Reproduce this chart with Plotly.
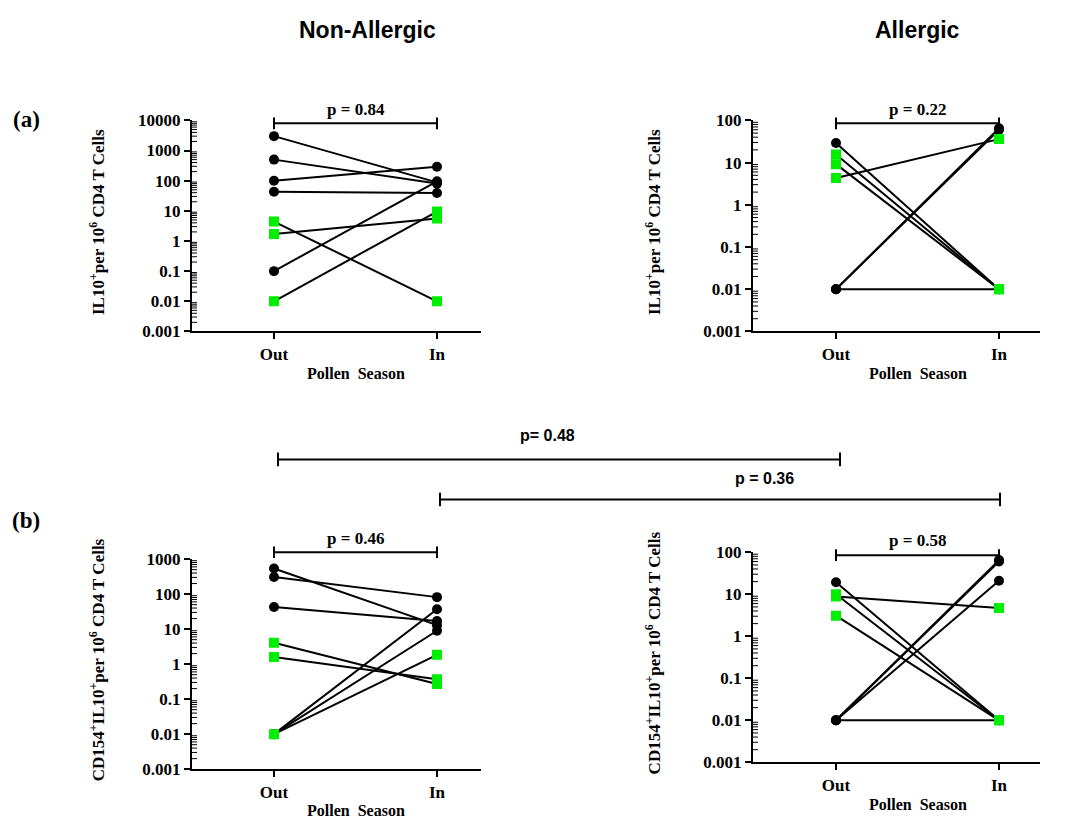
import plotly.graph_objects as go

W, H = 1077, 829

# ---------------- data ----------------
categories = ["Out", "In"]
ytick_vals_top_left = [0.001, 0.01, 0.1, 1, 10, 100, 1000, 10000]
ytick_text_top_left = ["0.001", "0.01", "0.1", "1", "10", "100", "1000", "10000"]
ytick_vals_bot_left = [0.001, 0.01, 0.1, 1, 10, 100, 1000]
ytick_text_bot_left = ["0.001", "0.01", "0.1", "1", "10", "100", "1000"]
ytick_vals_right = [0.001, 0.01, 0.1, 1, 10, 100]
ytick_text_right = ["0.001", "0.01", "0.1", "1", "10", "100"]

# (a) IL10+ , Non-Allergic
a_non_out = [3000, 500, 100, 43, 0.1, 4.4, 1.7, 0.01]
a_non_in = [88, 80, 290, 39, 95, 0.01, 5.6, 9.5]
a_non_grp = ["c", "c", "c", "c", "c", "s", "s", "s"]

# (a) IL10+ , Allergic
a_all_out = [29, 15.5, 9.2, 4.3, 0.01, 0.01, 0.01]
a_all_in = [0.01, 0.01, 0.01, 36, 60, 65, 0.01]
a_all_grp = ["c", "s", "s", "s", "c", "c", "c"]

# (b) CD154+IL10+ , Non-Allergic
b_non_out = [537, 308, 43, 4.1, 1.6, 0.01, 0.01, 0.01]
b_non_in = [13, 82, 17, 0.27, 0.37, 37, 9, 1.85]
b_non_grp = ["c", "c", "c", "s", "s", "c", "c", "s"]

# (b) CD154+IL10+ , Allergic
b_all_out = [19.4, 10, 8.9, 3.1, 0.01, 0.01, 0.01, 0.01]
b_all_in = [0.01, 0.01, 4.7, 0.01, 60, 65, 21, 0.01]
b_all_grp = ["c", "s", "s", "s", "c", "c", "c", "c"]

p_within = ["p = 0.84", "p = 0.22", "p = 0.46", "p = 0.58"]
p_between = ["p= 0.48", "p = 0.36"]
col_titles = ["Non-Allergic", "Allergic"]
row_labels = ["(a)", "(b)"]
ytitle_a = "<b>IL10<sup>+</sup>per 10<sup>6</sup> CD4 T Cells</b>"
ytitle_b = "<b>CD154<sup>+</sup>IL10<sup>+</sup>per 10<sup>6</sup> CD4 T Cells</b>"
xtitle = "<b>Pollen  Season</b>"

# ---------------- layout helpers ----------------
def fx(p):
    return p / W

def fy(p):
    return 1 - p / H

GREEN = "#00ee00"
SERIF = "Liberation Serif, Times New Roman, serif"
SANS = "Liberation Sans, Arial, sans-serif"

panels = [
    dict(out=a_non_out, inn=a_non_in, grp=a_non_grp, xpx=(192, 481), ypx=(330, 114),
         yr=(-3, 4), tv=ytick_vals_top_left, tt=ytick_text_top_left, p=p_within[0],
         pbar=117, ptxt=103, ytitle=ytitle_a, ytx=97, xlab=350, xtl=373),
    dict(out=a_all_out, inn=a_all_in, grp=a_all_grp, xpx=(753, 1040), ypx=(330, 114),
         yr=(-3, 2), tv=ytick_vals_right, tt=ytick_text_right, p=p_within[1],
         pbar=117, ptxt=103, ytitle=ytitle_a, ytx=653, xlab=350, xtl=373),
    dict(out=b_non_out, inn=b_non_in, grp=b_non_grp, xpx=(192, 481), ypx=(778, 563),
         yr=(-3, 3), tv=ytick_vals_bot_left, tt=ytick_text_bot_left, p=p_within[2],
         pbar=556, ptxt=542, ytitle=ytitle_b, ytx=97, xlab=798, xtl=820),
    dict(out=b_all_out, inn=b_all_in, grp=b_all_grp, xpx=(753, 1040), ypx=(771, 556),
         yr=(-3, 2), tv=ytick_vals_right, tt=ytick_text_right, p=p_within[3],
         pbar=559, ptxt=544, ytitle=ytitle_b, ytx=653, xlab=792, xtl=814),
]

OUT_PX = {192: 274, 753: 836}
STEP = 163.0

fig = go.Figure()
shapes = []
annotations = []

for i, pn in enumerate(panels):
    k = "" if i == 0 else str(i + 1)
    xa, ya = "x" + k, "y" + k
    x0, x1 = pn["xpx"]
    outpx = OUT_PX[x0]
    xr = [-(outpx - x0) / STEP, (x1 - outpx) / STEP]

    # connecting lines
    for o, n in zip(pn["out"], pn["inn"]):
        fig.add_trace(go.Scatter(x=[0, 1], y=[o, n], mode="lines", xaxis=xa, yaxis=ya,
                                 line=dict(color="black", width=2), hoverinfo="skip"))
    # markers: circles then squares
    for g, sym, col in (("c", "circle", "black"), ("s", "square", GREEN)):
        xs, ys = [], []
        for o, n, gg in zip(pn["out"], pn["inn"], pn["grp"]):
            if gg == g:
                xs += [0, 1]
                ys += [o, n]
        fig.add_trace(go.Scatter(x=xs, y=ys, mode="markers", xaxis=xa, yaxis=ya,
                                 marker=dict(symbol=sym, size=10, color=col,
                                             line=dict(width=0))))

    axfont = dict(family=SERIF, size=17, color="black", weight="bold")
    fig.update_layout(**{
        ("xaxis" + k): dict(domain=[fx(x0), fx(x1)], range=xr, anchor=ya,
                            tickmode="array", tickvals=[0, 1], ticktext=categories,
                            showline=True, linecolor="black", linewidth=2,
                            ticks="outside", ticklen=6, tickwidth=2, tickcolor="black",
                            showgrid=False, zeroline=False, tickfont=axfont),
        ("yaxis" + k): dict(domain=[fy(pn["ypx"][0]), fy(pn["ypx"][1])], type="log",
                            range=list(pn["yr"]), anchor=xa,
                            tickmode="array", tickvals=pn["tv"], ticktext=pn["tt"],
                            showline=True, linecolor="black", linewidth=2,
                            ticks="outside", ticklen=6, tickwidth=2, tickcolor="black",
                            showgrid=False, zeroline=False, tickfont=axfont),
    })

    # minor log ticks (2..9 in each decade) drawn just inside the y axis line
    tick_w = 5.0 / (x1 - x0)
    for e in range(pn["yr"][0], pn["yr"][1]):
        for m in range(2, 10):
            v = m * 10.0 ** e
            shapes.append(dict(type="line", xref=xa + " domain", yref=ya,
                               x0=0, x1=tick_w, y0=v, y1=v,
                               line=dict(color="black", width=1)))

    # within-panel p bracket
    xo, xi = fx(outpx), fx(outpx + STEP)
    yb = fy(pn["pbar"])
    shapes.append(dict(type="line", xref="paper", yref="paper", x0=xo, x1=xi, y0=yb, y1=yb,
                       line=dict(color="black", width=2)))
    for xx in (xo, xi):
        shapes.append(dict(type="line", xref="paper", yref="paper", x0=xx, x1=xx,
                           y0=fy(pn["pbar"] - 6), y1=fy(pn["pbar"] + 6),
                           line=dict(color="black", width=2)))
    annotations.append(dict(text="<b>" + pn["p"] + "</b>", xref="paper", yref="paper",
                            x=(xo + xi) / 2, y=fy(pn["ptxt"]), showarrow=False,
                            xanchor="center", yanchor="middle",
                            font=dict(family=SERIF, size=17, color="black")))
    # y title
    annotations.append(dict(text=pn["ytitle"], xref="paper", yref="paper",
                            x=fx(pn["ytx"]), y=fy((pn["ypx"][0] + pn["ypx"][1]) / 2 - 4),
                            textangle=-90, showarrow=False, xanchor="center",
                            yanchor="middle",
                            font=dict(family=SERIF, size=17, color="black")))
    # x title
    annotations.append(dict(text=xtitle, xref="paper", yref="paper",
                            x=fx(outpx + STEP / 2), y=fy(pn["xtl"]), showarrow=False,
                            xanchor="center", yanchor="middle",
                            font=dict(family=SERIF, size=16, color="black")))

# between-group brackets
between = [(278, 840, 461, 436, 547, p_between[0]), (440, 1000, 502, 481, 764, p_between[1])]
for a, b, yb, yt, xt, txt in between:
    shapes.append(dict(type="line", xref="paper", yref="paper", x0=fx(a), x1=fx(b),
                       y0=fy(yb), y1=fy(yb), line=dict(color="black", width=2)))
    for xx in (a, b):
        shapes.append(dict(type="line", xref="paper", yref="paper", x0=fx(xx), x1=fx(xx),
                           y0=fy(yb - 7), y1=fy(yb + 7), line=dict(color="black", width=2)))
    annotations.append(dict(text="<b>" + txt + "</b>", xref="paper", yref="paper",
                            x=fx(xt), y=fy(yt), showarrow=False, xanchor="center",
                            yanchor="middle", font=dict(family=SANS, size=16, color="black")))

# column titles and row labels
for txt, xc in zip(col_titles, (367, 917)):
    annotations.append(dict(text="<b>" + txt + "</b>", xref="paper", yref="paper",
                            x=fx(xc), y=fy(21), showarrow=False, xanchor="center",
                            yanchor="middle", font=dict(family=SANS, size=23, color="black")))
for txt, yc in zip(row_labels, (113, 523)):
    annotations.append(dict(text="<b>" + txt + "</b>", xref="paper", yref="paper",
                            x=fx(26), y=fy(yc), showarrow=False, xanchor="center",
                            yanchor="middle", font=dict(family=SERIF, size=23, color="black")))

fig.update_layout(width=W, height=H, margin=dict(l=0, r=0, t=0, b=0),
                  paper_bgcolor="white", plot_bgcolor="white", showlegend=False,
                  shapes=shapes, annotations=annotations)

fig.write_html("out.html")
